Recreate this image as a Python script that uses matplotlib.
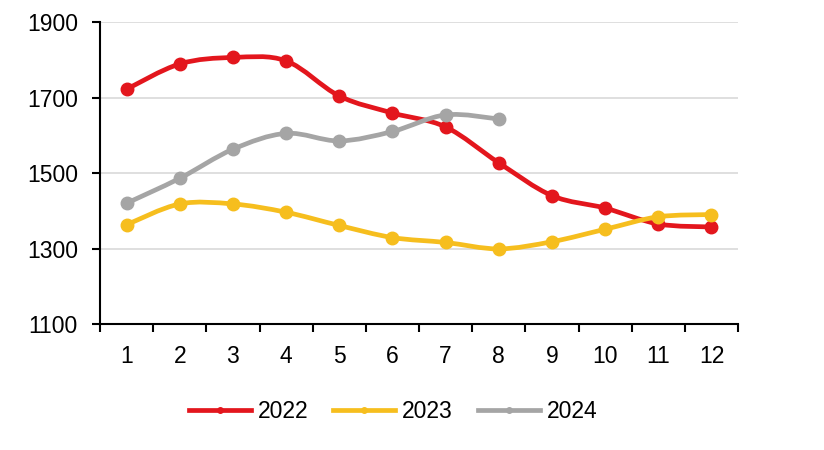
import matplotlib
matplotlib.use('Agg')
import matplotlib.pyplot as plt
import numpy as np
from matplotlib.path import Path
from matplotlib.patches import PathPatch
from matplotlib.lines import Line2D

plt.rcParams['font.family'] = ['Liberation Sans', 'DejaVu Sans']

months = list(range(1, 13))
years = ['2022', '2023', '2024']
v2022 = [1722, 1789, 1806, 1797, 1704, 1659, 1622, 1527, 1440, 1407, 1365, 1357]
v2023 = [1363, 1418, 1418, 1396, 1361, 1329, 1316, 1299, 1318, 1351, 1384, 1390]
v2024 = [1420, 1486, 1563, 1605, 1585, 1610, 1654, 1643]
colors = ['#E3161D', '#F6BE1E', '#A5A5A5']
yticks = [1100, 1300, 1500, 1700, 1900]


def smooth_path(xs, ys):
    # excel-style smoothed line: cubic bezier segments through every point
    p = np.column_stack([xs, ys]).astype(float)
    n = len(p)
    verts = [p[0]]
    codes = [Path.MOVETO]
    for i in range(n - 1):
        p0 = p[i - 1] if i > 0 else p[i]
        p3 = p[i + 2] if i + 2 < n else p[i + 1]
        c1 = p[i] + (p[i + 1] - p0) / 6.0
        c2 = p[i + 1] - (p3 - p[i]) / 6.0
        verts += [c1, c2, p[i + 1]]
        codes += [Path.CURVE4] * 3
    return Path(verts, codes)


fig = plt.figure(figsize=(8.24, 4.5), dpi=100)
ax = fig.add_axes([0.1214, 0.28, 0.7743, 0.6711])

series = [v2022, v2023, v2024]
handles = []
for vals, col, lab in zip(series, colors, years):
    xs = months[:len(vals)]
    ax.add_patch(PathPatch(smooth_path(xs, vals), fill=False, edgecolor=col,
                           lw=3.4, capstyle='round', joinstyle='round', zorder=3))
    ax.plot(xs, vals, 'o', color=col, ms=9, zorder=4)
    handles.append(Line2D([], [], color=col, lw=3.4, marker='o', ms=4, label=lab))

ax.set_xlim(0.5, 12.5)
ax.set_ylim(1100, 1900)
ax.set_yticks(yticks)
ax.set_xticks(months)
ax.set_xticks(np.arange(0.5, 13, 1), minor=True)
ax.tick_params(axis='x', which='major', length=0, pad=15, labelsize=16.5)
ax.tick_params(axis='x', which='minor', length=6, width=1.5, direction='out')
ax.tick_params(axis='y', length=6, width=1.5, direction='out', pad=10, labelsize=16.5)

for s in ['top', 'right']:
    ax.spines[s].set_visible(False)
for s in ['left', 'bottom']:
    ax.spines[s].set_linewidth(1.5)
    ax.spines[s].set_color('black')

ax.grid(axis='y', color='#D9D9D9', lw=1.2)
ax.set_axisbelow(True)

fig.legend(handles=handles, loc='center', bbox_to_anchor=(0.477, 0.085), ncol=3,
           frameon=False, fontsize=16.5, handlelength=2.7, handletextpad=0.3,
           columnspacing=1.1)

fig.savefig('out.png', dpi=100)
